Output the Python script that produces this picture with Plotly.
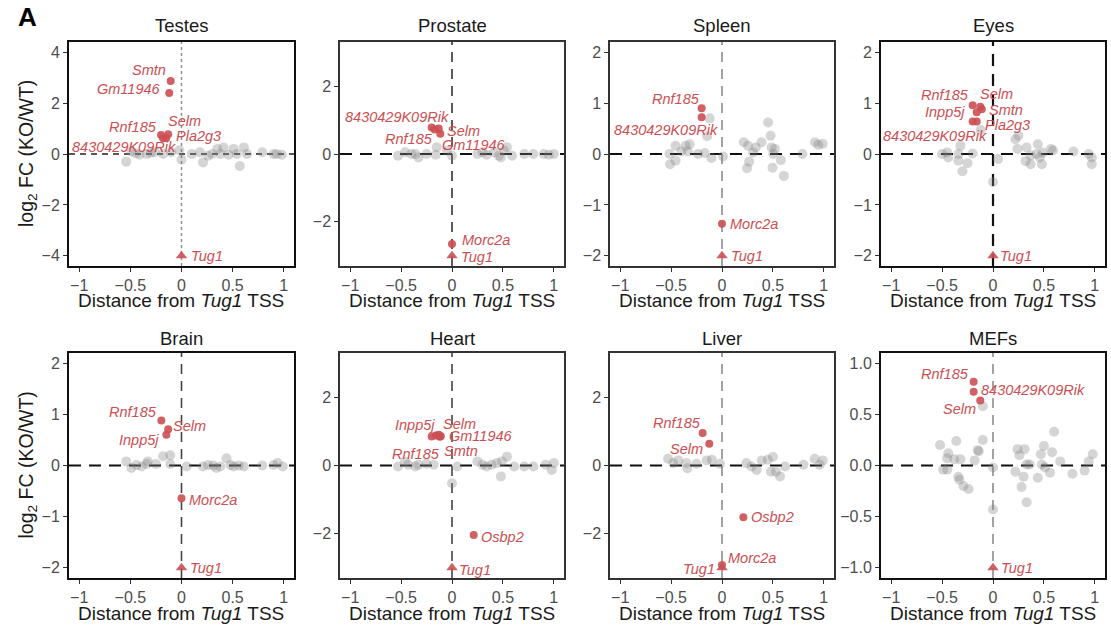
import plotly.graph_objects as go

FONT = "Liberation Sans, Arial, Helvetica, sans-serif"
RED = "#CB4F52"

panels = ["Testes", "Prostate", "Spleen", "Eyes", "Brain", "Heart", "Liver", "MEFs"]

# ---- background genes (grey): distance from Tug1 TSS (Mb), log2 FC ----
testes_bg_x = [-0.54, -0.49, -0.45, -0.41, -0.34, -0.3, -0.26, -0.18, -0.1, -0.02, 0.0, 0.1, 0.18,
               0.21, 0.26, 0.3, 0.35, 0.38, 0.41, 0.46, 0.51, 0.54, 0.57, 0.61, 0.64, 0.79, 0.9, 0.93, 0.98]
testes_bg_y = [-0.3, 0.1, 0.03, -0.03, 0.0, 0.05, 0.07, 0.0, 0.07, 0.15, -0.22, 0.0, 0.07,
               -0.33, -0.07, 0.0, 0.2, 0.0, 0.26, -0.03, 0.2, 0.0, -0.47, 0.26, 0.0, 0.07, 0.0, 0.0, -0.03]

prostate_bg_x = [-0.53, -0.46, -0.4, -0.36, -0.33, -0.25, -0.16, -0.15, -0.05, 0.0, 0.25, 0.3, 0.34,
                 0.41, 0.46, 0.48, 0.51, 0.54, 0.59, 0.71, 0.8, 0.9, 0.95, 1.0]
prostate_bg_y = [-0.05, 0.05, 0.0, 0.0, -0.1, 0.0, -0.02, 0.2, 0.1, -0.05, 0.0, 0.05, -0.02,
                 0.05, -0.05, -0.1, 0.1, 0.2, -0.05, 0.0, 0.0, 0.0, -0.02, 0.0]

spleen_bg_x = [-0.515, -0.51, -0.456, -0.456, -0.40, -0.357, -0.318, -0.335, -0.236, -0.17, -0.121,
               -0.145, -0.104, 0.01, 0.214, 0.256, 0.266, 0.246, 0.305, 0.332, 0.388, 0.453, 0.477,
               0.487, 0.503, 0.519, 0.496, 0.578, 0.608, 0.79, 0.913, 0.946, 0.989]
spleen_bg_y = [0.0, -0.2, -0.13, 0.16, 0.05, 0.16, 0.19, 0.05, 0.0, 0.02, 0.7,
               0.35, -0.08, -0.05, 0.23, 0.16, -0.15, -0.28, 0.03, 0.13, 0.23, 0.62, 0.36,
               0.13, 0.0, 0.1, -0.27, -0.12, -0.43, 0.0, 0.23, 0.18, 0.2]

eyes_bg_x = [-0.5, -0.45, -0.44, -0.34, -0.32, -0.34, -0.25, -0.3, -0.2, -0.12, 0.0, 0.05, 0.22, 0.24,
             0.33, 0.32, 0.37, 0.44, 0.43, 0.46, 0.49, 0.57, 0.59, 0.79, 0.94, 0.97, 0.97, 0.37,
             0.48, 0.25]
eyes_bg_y = [0.0, 0.03, -0.07, 0.0, 0.16, -0.13, -0.18, -0.34, 0.01, 0.47, -0.55, -0.1, 0.29, 0.1,
             0.13, -0.14, -0.03, 0.19, 0.0, -0.07, 0.03, 0.1, 0.07, 0.05, 0.0, -0.07, -0.2, -0.2,
             -0.2, 0.36]

brain_bg_x = [-0.54, -0.49, -0.44, -0.39, -0.34, -0.33, -0.25, -0.18, -0.11, -0.11, 0.05, 0.21, 0.26,
              0.31, 0.34, 0.38, 0.44, 0.48, 0.51, 0.56, 0.61, 0.79, 0.9, 0.94, 0.99]
brain_bg_y = [0.08, -0.05, 0.01, -0.02, 0.03, 0.08, 0.03, 0.18, 0.2, 0.03, -0.02, -0.02, 0.01,
              0.0, -0.05, -0.02, 0.14, 0.01, -0.02, 0.0, -0.02, 0.0, 0.01, 0.05, -0.02]

heart_bg_x = [-0.53, -0.46, -0.43, -0.36, -0.33, -0.25, -0.18, 0.0, 0.05, 0.25, 0.3, 0.34, 0.39,
              0.44, 0.48, 0.49, 0.54, 0.61, 0.71, 0.8, 0.92, 0.98, 1.0]
heart_bg_y = [-0.03, 0.12, 0.02, -0.03, 0.02, 0.05, 0.02, -0.52, -0.03, 0.12, 0.02, -0.03, 0.02,
              0.07, -0.32, 0.12, 0.26, -0.03, -0.03, -0.03, 0.02, -0.13, 0.07]

liver_bg_x = [-0.53, -0.48, -0.43, -0.35, -0.34, -0.25, -0.15, -0.1, -0.02, 0.24, 0.29, 0.34, 0.39,
              0.45, 0.5, 0.48, 0.53, 0.57, 0.62, 0.8, 0.91, 0.96, 0.99]
liver_bg_y = [0.2, 0.07, 0.15, 0.07, -0.08, 0.05, 0.15, 0.17, 0.05, 0.07, -0.03, -0.13, 0.15,
              0.17, 0.25, -0.18, -0.18, -0.32, -0.03, 0.02, 0.2, 0.02, 0.15]

mefs_bg_x = [-0.1, -0.52, -0.44, -0.45, -0.49, -0.45, -0.36, -0.38, -0.32, -0.34, -0.33, -0.29, -0.24,
             -0.15, -0.14, -0.18, -0.1, 0.0, 0.0, 0.22, 0.24, 0.26, 0.31, 0.3, 0.28, 0.33, 0.36,
             0.33, 0.44, 0.47, 0.5, 0.48, 0.51, 0.56, 0.58, 0.6, 0.66, 0.78, 0.9, 0.94, 0.98]
mefs_bg_y = [0.58, 0.2, 0.12, 0.07, -0.04, -0.04, 0.24, 0.06, 0.06, -0.11, -0.14, -0.2, -0.23,
             0.15, 0.14, 0.05, 0.25, -0.02, -0.43, -0.06, 0.16, 0.1, 0.16, -0.11, -0.21, 0.01, 0.01,
             -0.36, -0.12, 0.11, 0.19, 0.01, -0.02, -0.07, 0.13, 0.33, 0.04, -0.08, -0.05, 0.04, 0.11]

# ---- significant genes (red); Tug1 itself drawn as a triangle ----
testes_genes = ["Smtn", "Gm11946", "Rnf185", "Selm", "Pla2g3", "8430429K09Rik", "Tug1"]
testes_x = [-0.106, -0.12, -0.2, -0.13, -0.15, -0.18, 0.0]
testes_y = [2.87, 2.4, 0.75, 0.78, 0.62, 0.62, -4.0]

prostate_genes = ["8430429K09Rik", "Selm", "Rnf185", "Gm11946", "Morc2a", "Tug1"]
prostate_x = [-0.2, -0.13, -0.17, -0.115, 0.0, 0.0]
prostate_y = [0.78, 0.75, 0.72, 0.6, -2.65, -3.0]

spleen_genes = ["Rnf185", "8430429K09Rik", "Morc2a", "Tug1"]
spleen_x = [-0.2, -0.2, 0.0, 0.0]
spleen_y = [0.9, 0.72, -1.37, -2.0]

eyes_genes = ["Rnf185", "Selm", "Smtn", "Inpp5j", "Pla2g3", "8430429K09Rik", "Tug1"]
eyes_x = [-0.2, -0.125, -0.11, -0.16, -0.16, -0.2, 0.0]
eyes_y = [0.96, 0.93, 0.88, 0.82, 0.64, 0.64, -2.0]

brain_genes = ["Rnf185", "Selm", "Inpp5j", "Morc2a", "Tug1"]
brain_x = [-0.197, -0.13, -0.148, 0.0, 0.0]
brain_y = [0.88, 0.71, 0.6, -0.64, -2.0]

heart_genes = ["Rnf185", "Inpp5j", "Selm", "Gm11946", "Smtn", "Osbp2", "Tug1"]
heart_x = [-0.2, -0.16, -0.13, -0.11, -0.12, 0.213, 0.0]
heart_y = [0.85, 0.88, 0.9, 0.86, 0.84, -2.04, -3.0]

liver_genes = ["Rnf185", "Selm", "Osbp2", "Morc2a", "Tug1"]
liver_x = [-0.19, -0.125, 0.21, 0.0, 0.0]
liver_y = [0.95, 0.64, -1.52, -2.92, -3.0]

mefs_genes = ["Rnf185", "8430429K09Rik", "Selm", "Tug1"]
mefs_x = [-0.19, -0.19, -0.125, 0.0]
mefs_y = [0.82, 0.72, 0.635, -1.0]

data = {
    "Testes": (testes_bg_x, testes_bg_y, testes_genes, testes_x, testes_y),
    "Prostate": (prostate_bg_x, prostate_bg_y, prostate_genes, prostate_x, prostate_y),
    "Spleen": (spleen_bg_x, spleen_bg_y, spleen_genes, spleen_x, spleen_y),
    "Eyes": (eyes_bg_x, eyes_bg_y, eyes_genes, eyes_x, eyes_y),
    "Brain": (brain_bg_x, brain_bg_y, brain_genes, brain_x, brain_y),
    "Heart": (heart_bg_x, heart_bg_y, heart_genes, heart_x, heart_y),
    "Liver": (liver_bg_x, liver_bg_y, liver_genes, liver_x, liver_y),
    "MEFs": (mefs_bg_x, mefs_bg_y, mefs_genes, mefs_x, mefs_y),
}

# ---- label placement: (xanchor, x offset px, y offset px) ----
label_pos = {
    "Testes": {"Smtn": ("right", -3, 11), "Gm11946": ("right", -6, 4), "Rnf185": ("right", -2, 8),
               "Selm": ("left", -2, 13), "Pla2g3": ("left", 8, 2),
               "8430429K09Rik": ("center", -39, -9), "Tug1": ("left", 7, 0)},
    "Prostate": {"8430429K09Rik": ("center", -35, 11), "Selm": ("left", 6, -2),
                 "Rnf185": ("right", 0, -9), "Gm11946": ("left", 0, -11),
                 "Morc2a": ("left", 8, 4), "Tug1": ("left", 7, -1)},
    "Spleen": {"Rnf185": ("right", 0, 9), "8430429K09Rik": ("center", -36, -13),
               "Morc2a": ("left", 6, 0), "Tug1": ("left", 7, 0)},
    "Eyes": {"Rnf185": ("right", -2, 10), "Selm": ("left", -2, 13), "Smtn": ("left", 5, -1),
             "Inpp5j": ("right", -10, 0), "Pla2g3": ("left", 6, -4),
             "8430429K09Rik": ("center", -38, -15), "Tug1": ("left", 5, 0)},
    "Brain": {"Rnf185": ("right", -2, 9), "Selm": ("left", 3, 3), "Inpp5j": ("right", -5, -5),
              "Morc2a": ("left", 5, -2), "Tug1": ("left", 6, 0)},
    "Heart": {"Rnf185": ("center", -16, -17), "Inpp5j": ("right", 1, 11), "Selm": ("left", 2, 11),
              "Gm11946": ("left", 6, 0), "Smtn": ("left", 2, -14), "Osbp2": ("left", 5, -2),
              "Tug1": ("left", 5, -2)},
    "Liver": {"Rnf185": ("right", 0, 10), "Selm": ("right", -4, -5), "Osbp2": ("left", 6, 0),
              "Morc2a": ("left", 4, 7), "Tug1": ("right", -5, -1)},
    "MEFs": {"Rnf185": ("right", -3, 8), "8430429K09Rik": ("left", 5, 2), "Selm": ("right", -2, -8),
             "Tug1": ("left", 6, 0)},
}

# ---- per-panel axis setup ----
y_limit = {"Testes": 4.4, "Prostate": 3.3, "Spleen": 2.2, "Eyes": 2.2,
           "Brain": 2.2, "Heart": 3.3, "Liver": 3.3, "MEFs": 1.1}
y_ticks = {"Testes": [-4, -2, 0, 2, 4], "Prostate": [-2, 0, 2], "Spleen": [-2, -1, 0, 1, 2],
           "Eyes": [-2, -1, 0, 1, 2], "Brain": [-2, -1, 0, 1, 2], "Heart": [-2, 0, 2],
           "Liver": [-2, 0, 2], "MEFs": [-1, -0.5, 0, 0.5, 1]}
# vertical reference line: (colour, width, dash)
vline_style = {"Testes": ("#8c8c8c", 1.4, "3px,3px"), "Prostate": ("#333333", 1.6, "10px,7px"),
               "Spleen": ("#8c8c8c", 1.6, "10px,7px"), "Eyes": ("#111111", 2.2, "12px,8px"),
               "Brain": ("#444444", 1.6, "10px,7px"), "Heart": ("#444444", 1.6, "10px,7px"),
               "Liver": ("#8c8c8c", 1.6, "10px,7px"), "MEFs": ("#8c8c8c", 1.6, "10px,7px")}
hline_style = {"Testes": ("#222222", 1.5, "6px,5px")}
frame_style = {"Testes": ("#111111", 2.0), "Prostate": ("#333333", 1.5), "Spleen": ("#333333", 1.5),
               "Eyes": ("#111111", 2.0), "Brain": ("#111111", 2.0), "Heart": ("#333333", 1.5),
               "Liver": ("#333333", 1.5), "MEFs": ("#111111", 2.0)}

W, H = 1111, 628
col_x = [(69, 294), (340, 564), (610, 834), (881, 1105)]
row_y = [(42, 266), (353, 578)]

fig = go.Figure()
layout = dict(width=W, height=H, margin=dict(l=0, r=0, t=0, b=0),
              paper_bgcolor="white", plot_bgcolor="white", showlegend=False)
annotations, shapes = [], []

for i, name in enumerate(panels):
    s = "" if i == 0 else str(i + 1)
    r, c = divmod(i, 4)
    x0p, x1p = col_x[c]
    y0p, y1p = row_y[r]
    xd = [x0p / W, x1p / W]
    yd = [1 - y1p / H, 1 - y0p / H]
    fcol, fw = frame_style[name]
    lim = y_limit[name]

    axis_common = dict(showgrid=False, zeroline=False, showline=True, mirror=True,
                       linecolor=fcol, linewidth=fw, ticks="outside", ticklen=4,
                       tickwidth=1.3, tickcolor="#333333",
                       tickfont=dict(family=FONT, size=16, color="#4D4D4D"))
    layout["xaxis" + s] = dict(axis_common, domain=xd, range=[-1.1, 1.1], anchor="y" + s,
                               tickvals=[-1, -0.5, 0, 0.5, 1], ticktext=["−1", "−0.5", "0", "0.5", "1"])
    yt = y_ticks[name]
    if name == "MEFs":
        ytxt = [("%.1f" % v).replace("-", "−") for v in yt]
    else:
        ytxt = [str(v).replace("-", "−") for v in yt]
    layout["yaxis" + s] = dict(axis_common, domain=yd, range=[-lim, lim], anchor="x" + s,
                               tickvals=yt, ticktext=ytxt)

    # reference lines at zero
    hc, hw, hd = hline_style.get(name, ("#111111", 2.2, "12px,8px"))
    shapes.append(dict(type="line", xref="x" + s + " domain", yref="y" + s, x0=0, x1=1, y0=0, y1=0,
                       line=dict(color=hc, width=hw, dash=hd), layer="below"))
    vc, vw, vd = vline_style[name]
    shapes.append(dict(type="line", xref="x" + s, yref="y" + s + " domain", x0=0, x1=0, y0=0, y1=1,
                       line=dict(color=vc, width=vw, dash=vd), layer="below"))

    bg_x, bg_y, genes, hx, hy = data[name]
    fig.add_trace(go.Scatter(x=bg_x, y=bg_y, mode="markers", xaxis="x" + s, yaxis="y" + s,
                             marker=dict(size=10, color="rgba(128,128,128,0.33)", line=dict(width=0)),
                             hoverinfo="skip"))
    symbols = ["triangle-up" if g == "Tug1" else "circle" for g in genes]
    sizes = [10 if g == "Tug1" else 8 for g in genes]
    fig.add_trace(go.Scatter(x=hx, y=hy, mode="markers", xaxis="x" + s, yaxis="y" + s,
                             marker=dict(size=sizes, symbol=symbols, color=RED, opacity=0.9,
                                         line=dict(width=0)),
                             cliponaxis=False, hoverinfo="skip"))
    for g, gx, gy in zip(genes, hx, hy):
        anc, dx, dy = label_pos[name][g]
        annotations.append(dict(xref="x" + s, yref="y" + s, x=gx, y=gy, text="<i>%s</i>" % g,
                                showarrow=False, xanchor=anc, yanchor="middle", xshift=dx, yshift=dy,
                                font=dict(family=FONT, size=14.5, color=RED)))

    # panel title
    title_y = 25 if r == 0 else 338
    annotations.append(dict(xref="paper", yref="paper", x=(xd[0] + xd[1]) / 2, y=1 - title_y / H,
                            text=name, showarrow=False, xanchor="center", yanchor="middle",
                            font=dict(family=FONT, size=18.5, color="#1a1a1a")))
    # x-axis title
    xt_y = 300 if r == 0 else 613
    annotations.append(dict(xref="paper", yref="paper", x=(xd[0] + xd[1]) / 2, y=1 - xt_y / H,
                            text="Distance from <i>Tug1</i> TSS", showarrow=False,
                            xanchor="center", yanchor="middle",
                            font=dict(family=FONT, size=19, color="#1a1a1a")))
    # y-axis title on the first column only
    if c == 0:
        annotations.append(dict(xref="paper", yref="paper", x=27 / W, y=(yd[0] + yd[1]) / 2,
                                text="log<sub>2</sub> FC (KO/WT)", showarrow=False, textangle=-90,
                                xanchor="center", yanchor="middle",
                                font=dict(family=FONT, size=19.5, color="#1a1a1a")))

annotations.append(dict(xref="paper", yref="paper", x=27 / W, y=1 - 17.5 / H, text="<b>A</b>",
                        showarrow=False, xanchor="center", yanchor="middle",
                        font=dict(family=FONT, size=26, color="#000000")))

layout["annotations"] = annotations
layout["shapes"] = shapes
fig.update_layout(**layout)
fig.write_html("out.html")
